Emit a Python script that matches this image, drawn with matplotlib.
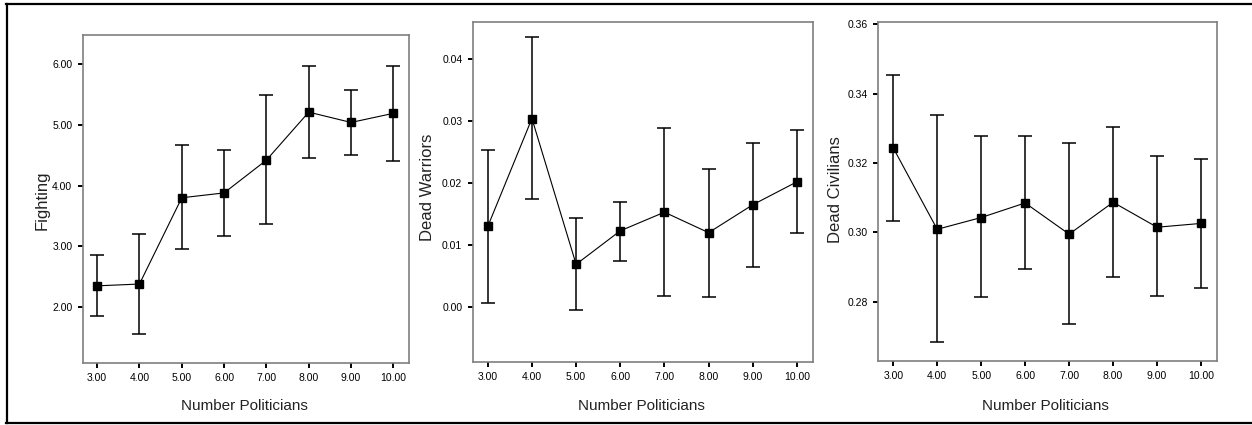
import matplotlib.pyplot as plt
from matplotlib.lines import Line2D

plt.rcParams["font.family"] = ["Liberation Sans", "DejaVu Sans"]

politicians = [3, 4, 5, 6, 7, 8, 9, 10]

fighting_mean = [2.35, 2.38, 3.80, 3.88, 4.42, 5.21, 5.04, 5.19]
fighting_upper = [2.85, 3.20, 4.67, 4.59, 5.49, 5.97, 5.57, 5.97]
fighting_lower = [1.86, 1.55, 2.95, 3.17, 3.36, 4.45, 4.50, 4.41]

warriors_mean = [0.0130, 0.0304, 0.0069, 0.0123, 0.0153, 0.0120, 0.0165, 0.0202]
warriors_upper = [0.0254, 0.0435, 0.0143, 0.0169, 0.0289, 0.0223, 0.0264, 0.0285]
warriors_lower = [0.0006, 0.0174, -0.0005, 0.0075, 0.0018, 0.0017, 0.0064, 0.0119]

civilians_mean = [0.3244, 0.3009, 0.3043, 0.3085, 0.2995, 0.3087, 0.3015, 0.3026]
civilians_upper = [0.3454, 0.3339, 0.3278, 0.3278, 0.3259, 0.3305, 0.3221, 0.3213]
civilians_lower = [0.3034, 0.2683, 0.2813, 0.2894, 0.2735, 0.2870, 0.2816, 0.2840]

x_ticklabels = [f"{v:.2f}" for v in politicians]

panels = [
    {
        "mean": fighting_mean, "upper": fighting_upper, "lower": fighting_lower,
        "ylabel": "Fighting", "yticks": [2, 3, 4, 5, 6], "fmt": "{:.2f}",
        "ylim": (1.08, 6.48), "rect": [0.0661, 0.1459, 0.2606, 0.7718],
        "ylabel_xy": (42, 200), "xlabel_xy": (244, 406),
    },
    {
        "mean": warriors_mean, "upper": warriors_upper, "lower": warriors_lower,
        "ylabel": "Dead Warriors", "yticks": [0.0, 0.01, 0.02, 0.03, 0.04], "fmt": "{:.2f}",
        "ylim": (-0.0088, 0.046), "rect": [0.3776, 0.1489, 0.2720, 0.8000],
        "ylabel_xy": (428, 187), "xlabel_xy": (641, 406),
    },
    {
        "mean": civilians_mean, "upper": civilians_upper, "lower": civilians_lower,
        "ylabel": "Dead Civilians", "yticks": [0.28, 0.30, 0.32, 0.34, 0.36], "fmt": "{:.2f}",
        "ylim": (0.2629, 0.3608), "rect": [0.7015, 0.1506, 0.2708, 0.7983],
        "ylabel_xy": (836, 190), "xlabel_xy": (1045, 406),
    },
]

W, H = 1252, 425
fig = plt.figure(figsize=(W / 100, H / 100), dpi=100)

for p in panels:
    ax = fig.add_axes(p["rect"])
    yerr = [
        [m - lo for m, lo in zip(p["mean"], p["lower"])],
        [up - m for m, up in zip(p["mean"], p["upper"])],
    ]
    ax.errorbar(politicians, p["mean"], yerr=yerr, color="black", lw=0.8,
                elinewidth=1.1, capsize=4.8, capthick=1.1,
                marker="s", markersize=5.5, markerfacecolor="black",
                markeredgecolor="black")
    ax.set_xlim(2.66, 10.37)
    ax.set_ylim(*p["ylim"])
    ax.set_xticks(politicians)
    ax.set_xticklabels(x_ticklabels)
    ax.set_yticks(p["yticks"])
    ax.set_yticklabels([p["fmt"].format(v) for v in p["yticks"]])
    ax.tick_params(axis="both", labelsize=7.5, length=3.5, width=1.4,
                   color="black", pad=4)
    for s in ax.spines.values():
        s.set_color("#7f7f7f")
        s.set_linewidth(1.2)
    lx, ly = p["ylabel_xy"]
    fig.text(lx / W, 1 - ly / H, p["ylabel"], rotation=90, ha="center",
             va="center", fontsize=12, color="#222222")
    xx, xy = p["xlabel_xy"]
    fig.text(xx / W, 1 - xy / H, "Number Politicians", ha="center",
             va="center", fontsize=11, color="#222222")

# outer frame (top, left, bottom)
for xs, ys in [([6 / W, 1], [1 - 3.5 / H, 1 - 3.5 / H]),
               ([6.5 / W, 6.5 / W], [1 - 3.5 / H, 1 - 423 / H]),
               ([6 / W, 1], [1 - 423 / H, 1 - 423 / H])]:
    fig.add_artist(Line2D(xs, ys, color="black", lw=1.6,
                          transform=fig.transFigure))

fig.savefig("out.png", dpi=100)
